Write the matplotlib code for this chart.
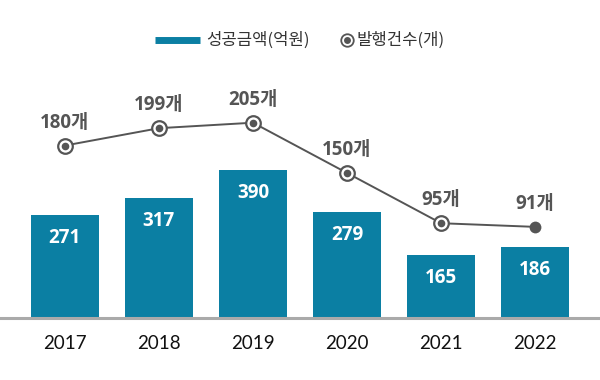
import matplotlib
matplotlib.use("Agg")
import matplotlib.pyplot as plt
from matplotlib.lines import Line2D

plt.rcParams['font.family'] = ['Noto Sans CJK KR', 'DejaVu Sans']
num_font = ['Open Sans', 'Noto Sans CJK KR']

years = ["2017", "2018", "2019", "2020", "2021", "2022"]
amounts = [271, 317, 390, 279, 165, 186]      # 성공금액(억원)
counts = [180, 199, 205, 150, 95, 91]          # 발행건수(개)
legend_labels = ["성공금액(억원)", "발행건수(개)"]

bar_color = "#0b7fa3"
line_color = "#555555"

fig = plt.figure(figsize=(6, 3.8), dpi=100)
ax = fig.add_axes([0, 0.163, 1, 0.68])
x = list(range(len(years)))

ax.bar(x, amounts, width=0.73, color=bar_color, zorder=2)
ax.set_xlim(-0.69, 5.69)
ax.set_ylim(0, 680)
for xi, v in zip(x, amounts):
    ax.annotate(str(v), (xi, v), xytext=(0, -16.5), textcoords="offset points",
                ha="center", va="center", color="white", fontsize=13.5,
                fontweight="bold", family=num_font)

for s in ["top", "right", "left"]:
    ax.spines[s].set_visible(False)
ax.spines["bottom"].set_color("#aaaaaa")
ax.spines["bottom"].set_linewidth(2.2)
ax.set_yticks([])
ax.set_xticks(x)
ax.set_xticklabels(years, fontsize=13.5, color="#111111", family=['Lato', 'DejaVu Sans'])
ax.tick_params(axis="x", length=0, pad=12)

ax2 = ax.twinx()
ax2.set_ylim(-8.8, 274)
ax2.set_yticks([])
for s in ax2.spines.values():
    s.set_visible(False)
ax2.plot(x, counts, color=line_color, lw=1.4, zorder=3)
ax2.plot(x[:-1], counts[:-1], ls="none", marker="o", ms=10.5, mfc="white",
         mec=line_color, mew=1.6, zorder=4)
ax2.plot(x[:-1], counts[:-1], ls="none", marker="o", ms=5.5, mfc=line_color,
         mec=line_color, mew=0, zorder=5)
ax2.plot(x[-1:], counts[-1:], ls="none", marker="o", ms=8.5, mfc=line_color,
         mec=line_color, mew=0, zorder=5)
for xi, v in zip(x, counts):
    ax2.annotate(f"{v}개", (xi, v), xytext=(0, 16.5), textcoords="offset points",
                 ha="center", va="center", color=line_color, fontsize=13.5,
                 fontweight="bold", family=num_font)

# manual legend (figure coordinates)
W, H = 600.0, 380.0
ly = 1 - 40 / H
fig.add_artist(Line2D([155 / W, 200 / W], [ly, ly], color=bar_color, lw=5,
                      solid_capstyle="butt", transform=fig.transFigure))
fig.text(206 / W, ly, legend_labels[0], ha="left", va="center", fontsize=12,
         color="#333333")
fig.add_artist(Line2D([347 / W], [ly], ls="none", marker="o", ms=9, mfc="white",
                      mec=line_color, mew=1.3, transform=fig.transFigure))
fig.add_artist(Line2D([347 / W], [ly], ls="none", marker="o", ms=5, mfc=line_color,
                      mew=0, transform=fig.transFigure))
fig.text(356 / W, ly, legend_labels[1], ha="left", va="center", fontsize=12,
         color="#333333")

fig.savefig("out.png", dpi=100)
